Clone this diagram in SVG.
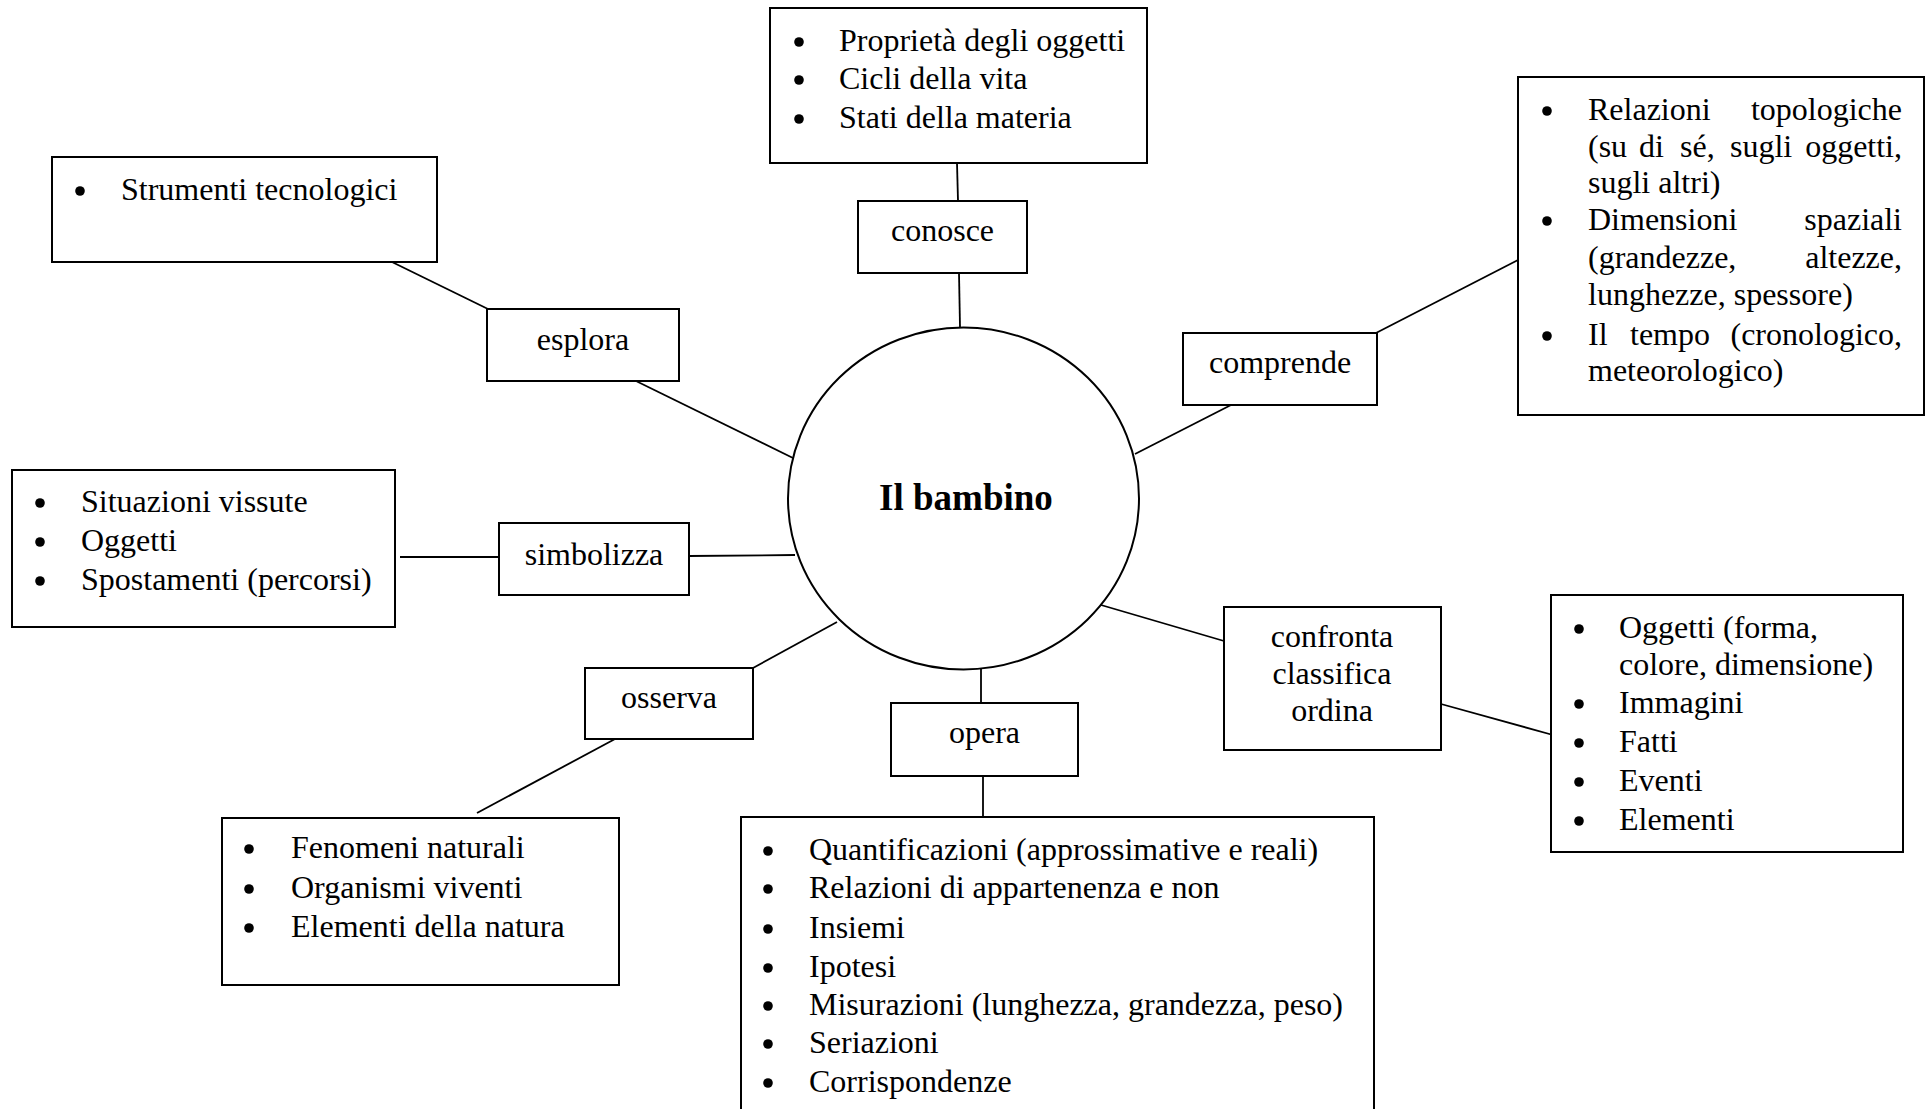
<svg xmlns="http://www.w3.org/2000/svg" width="1927" height="1109" viewBox="0 0 1927 1109">
<style>
.box{fill:#fff;stroke:#000;stroke-width:2}
.t{font-family:"Liberation Serif","Times New Roman",serif;font-size:32px;fill:#000}
.c{text-anchor:middle}
.e{text-anchor:end}
.b{font-weight:bold;font-size:37px}
.ln{stroke:#000;stroke-width:1.8;fill:none}
.dot{fill:#000}
</style>
<rect width="1927" height="1109" fill="#fff"/>
<g id="connectors">
<line class="ln" x1="957" y1="163" x2="958" y2="201"/>
<line class="ln" x1="959" y1="273" x2="960" y2="327"/>
<line class="ln" x1="392" y1="262" x2="488" y2="309"/>
<line class="ln" x1="636" y1="381" x2="793" y2="458"/>
<line class="ln" x1="1376" y1="333" x2="1518" y2="260"/>
<line class="ln" x1="1231" y1="405" x2="1135" y2="454"/>
<line class="ln" x1="400" y1="557" x2="499" y2="557"/>
<line class="ln" x1="689" y1="556" x2="795" y2="555"/>
<line class="ln" x1="753" y1="668" x2="837" y2="622"/>
<line class="ln" x1="615" y1="739" x2="477" y2="813"/>
<line class="ln" x1="981" y1="668" x2="981" y2="703"/>
<line class="ln" x1="983" y1="776" x2="983" y2="817"/>
<line class="ln" x1="1101" y1="605" x2="1224" y2="641"/>
<line class="ln" x1="1441" y1="704" x2="1553" y2="735"/>
</g>
<g id="center">
<ellipse class="box" cx="963.5" cy="498.5" rx="175.5" ry="171"/>
<text class="t c b" x="966" y="510">Il bambino</text>
</g>
<g id="proprieta">
<rect class="box" x="770" y="8" width="377" height="155"/>
<circle class="dot" cx="799" cy="42" r="4.8"/>
<circle class="dot" cx="799" cy="80" r="4.8"/>
<circle class="dot" cx="799" cy="119" r="4.8"/>
<text class="t" x="839" y="51">Proprietà degli oggetti</text>
<text class="t" x="839" y="89">Cicli della vita</text>
<text class="t" x="839" y="128">Stati della materia</text>
</g>
<g id="conosce">
<rect class="box" x="858" y="201" width="169" height="72"/>
<text class="t c" x="942.5" y="241">conosce</text>
</g>
<g id="strumenti">
<rect class="box" x="52" y="157" width="385" height="105"/>
<circle class="dot" cx="80" cy="191" r="4.8"/>
<text class="t" x="121" y="200">Strumenti tecnologici</text>
</g>
<g id="esplora">
<rect class="box" x="487" y="309" width="192" height="72"/>
<text class="t c" x="583" y="350">esplora</text>
</g>
<g id="comprende">
<rect class="box" x="1183" y="333" width="194" height="72"/>
<text class="t c" x="1280" y="373">comprende</text>
</g>
<g id="relazioni">
<rect class="box" x="1518" y="77" width="406" height="338"/>
<circle class="dot" cx="1547" cy="111" r="4.8"/>
<circle class="dot" cx="1547" cy="221" r="4.8"/>
<circle class="dot" cx="1547" cy="336" r="4.8"/>
<text class="t" x="1588" y="120">Relazioni</text>
<text class="t e" x="1902" y="120">topologiche</text>
<text class="t" y="157"><tspan x="1588">(su</tspan><tspan x="1639">di</tspan><tspan x="1680">sé,</tspan><tspan x="1730">sugli</tspan></text>
<text class="t e" x="1902" y="157">oggetti,</text>
<text class="t" x="1588" y="193">sugli altri)</text>
<text class="t" x="1588" y="230">Dimensioni</text>
<text class="t e" x="1902" y="230">spaziali</text>
<text class="t" x="1588" y="268">(grandezze,</text>
<text class="t e" x="1902" y="268">altezze,</text>
<text class="t" x="1588" y="305">lunghezze, spessore)</text>
<text class="t" y="345"><tspan x="1588">Il</tspan><tspan x="1630">tempo</tspan></text>
<text class="t e" x="1902" y="345">(cronologico,</text>
<text class="t" x="1588" y="381">meteorologico)</text>
</g>
<g id="situazioni">
<rect class="box" x="12" y="470" width="383" height="157"/>
<circle class="dot" cx="40" cy="503" r="4.8"/>
<circle class="dot" cx="40" cy="542" r="4.8"/>
<circle class="dot" cx="40" cy="581" r="4.8"/>
<text class="t" x="81" y="512">Situazioni vissute</text>
<text class="t" x="81" y="551">Oggetti</text>
<text class="t" x="81" y="590">Spostamenti (percorsi)</text>
</g>
<g id="simbolizza">
<rect class="box" x="499" y="523" width="190" height="72"/>
<text class="t c" x="594" y="565">simbolizza</text>
</g>
<g id="osserva">
<rect class="box" x="585" y="668" width="168" height="71"/>
<text class="t c" x="669" y="708">osserva</text>
</g>
<g id="fenomeni">
<rect class="box" x="222" y="818" width="397" height="167"/>
<circle class="dot" cx="249" cy="849" r="4.8"/>
<circle class="dot" cx="249" cy="889" r="4.8"/>
<circle class="dot" cx="249" cy="928" r="4.8"/>
<text class="t" x="291" y="858">Fenomeni naturali</text>
<text class="t" x="291" y="898">Organismi viventi</text>
<text class="t" x="291" y="937">Elementi della natura</text>
</g>
<g id="opera">
<rect class="box" x="891" y="703" width="187" height="73"/>
<text class="t c" x="984.5" y="743">opera</text>
</g>
<g id="quantificazioni">
<rect class="box" x="741" y="817" width="633" height="310"/>
<circle class="dot" cx="768" cy="851" r="4.8"/>
<circle class="dot" cx="768" cy="889" r="4.8"/>
<circle class="dot" cx="768" cy="929" r="4.8"/>
<circle class="dot" cx="768" cy="968" r="4.8"/>
<circle class="dot" cx="768" cy="1006" r="4.8"/>
<circle class="dot" cx="768" cy="1044" r="4.8"/>
<circle class="dot" cx="768" cy="1083" r="4.8"/>
<text class="t" x="809" y="860">Quantificazioni (approssimative e reali)</text>
<text class="t" x="809" y="898">Relazioni di appartenenza e non</text>
<text class="t" x="809" y="938">Insiemi</text>
<text class="t" x="809" y="977">Ipotesi</text>
<text class="t" x="809" y="1015">Misurazioni (lunghezza, grandezza, peso)</text>
<text class="t" x="809" y="1053">Seriazioni</text>
<text class="t" x="809" y="1092">Corrispondenze</text>
</g>
<g id="confronta">
<rect class="box" x="1224" y="607" width="217" height="143"/>
<text class="t c" x="1332" y="647">confronta</text>
<text class="t c" x="1332" y="684">classifica</text>
<text class="t c" x="1332" y="721">ordina</text>
</g>
<g id="oggetti">
<rect class="box" x="1551" y="595" width="352" height="257"/>
<circle class="dot" cx="1579" cy="629" r="4.8"/>
<circle class="dot" cx="1579" cy="704" r="4.8"/>
<circle class="dot" cx="1579" cy="743" r="4.8"/>
<circle class="dot" cx="1579" cy="782" r="4.8"/>
<circle class="dot" cx="1579" cy="821" r="4.8"/>
<text class="t" x="1619" y="638">Oggetti (forma,</text>
<text class="t" x="1619" y="675">colore, dimensione)</text>
<text class="t" x="1619" y="713">Immagini</text>
<text class="t" x="1619" y="752">Fatti</text>
<text class="t" x="1619" y="791">Eventi</text>
<text class="t" x="1619" y="830">Elementi</text>
</g>
</svg>
